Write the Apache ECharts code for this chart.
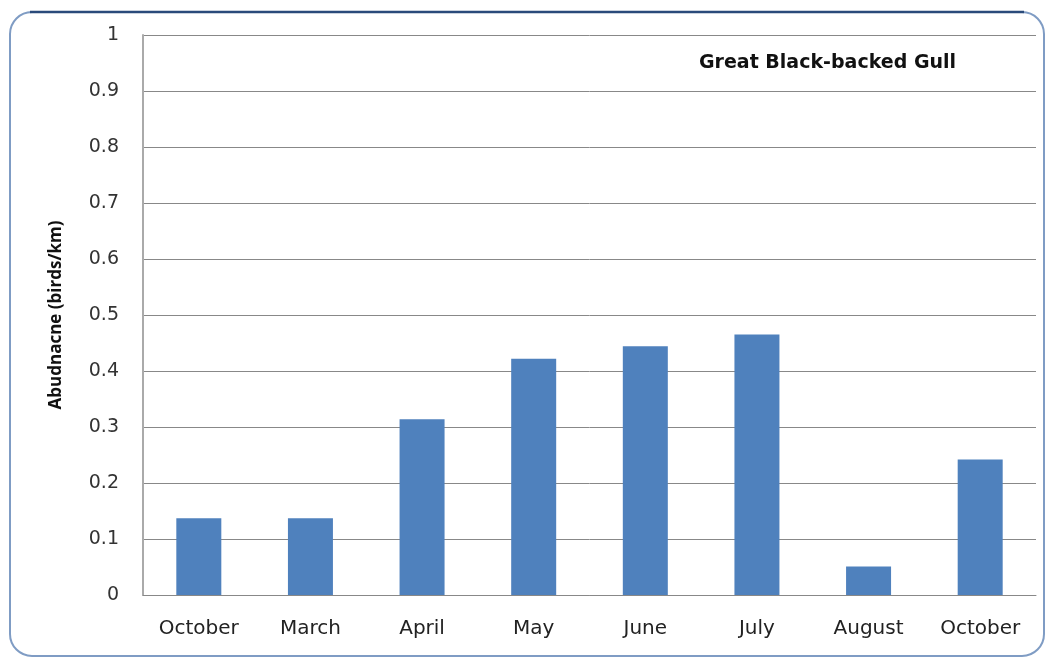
<!DOCTYPE html>
<html>
<head>
<meta charset="utf-8">
<script src="https://cdn.jsdelivr.net/npm/echarts@6/dist/echarts.min.js"></script>
<style>html,body{margin:0;padding:0;background:#fff;}#c{width:1051px;height:660px;}</style>
</head>
<body>
<div id="c"></div>
<script>
const categories = ['October', 'March', 'April', 'May', 'June', 'July', 'August', 'October'];
const abundance = [0.137, 0.137, 0.314, 0.422, 0.444, 0.465, 0.051, 0.242];
const yTicks = [0, 0.1, 0.2, 0.3, 0.4, 0.5, 0.6, 0.7, 0.8, 0.9, 1];

const chart = echarts.init(document.getElementById('c'), null, {renderer: 'canvas'});
chart.setOption({
  animation: false,
  backgroundColor: '#fff',
  title: {
    text: 'Great Black-backed Gull',
    left: 694, top: 49,
    textStyle: {fontFamily: 'DejaVu Sans', fontWeight: 'bold', fontSize: 19, color: '#111'}
  },
  graphic: [{
    type: 'rect', silent: true, z: -1,
    shape: {x: 10, y: 12, width: 1034, height: 644, r: 22},
    style: {fill: 'none', stroke: '#7f9cc4', lineWidth: 2}
  }, {
    type: 'line', silent: true, z: -1,
    shape: {x1: 30, y1: 12, x2: 1024, y2: 12},
    style: {stroke: '#2a4a7a', lineWidth: 2.5}
  }],
  grid: {left: 143, right: 15, top: 35, bottom: 65, containLabel: false},
  xAxis: {
    type: 'category', data: categories,
    axisLine: {lineStyle: {color: '#888', width: 1}},
    axisTick: {show: false},
    axisLabel: {fontFamily: 'DejaVu Sans', fontSize: 20, color: '#222', margin: 24}
  },
  yAxis: {
    type: 'value', min: 0, max: 1, interval: 0.1,
    name: 'Abudnacne (birds/km)', nameLocation: 'middle', nameGap: 78, nameRotate: 90,
    nameTextStyle: {fontFamily: 'Open Sans', fontWeight: 'bold', fontSize: 17, color: '#111'},
    axisLine: {show: true, lineStyle: {color: '#aaa', width: 2}},
    axisTick: {show: false},
    axisLabel: {fontFamily: 'DejaVu Sans', fontSize: 19, color: '#333', margin: 24,
      formatter: v => { const t = yTicks.find(x => Math.abs(x - v) < 1e-9); return String(t !== undefined ? +t.toFixed(1) : v); }},
    splitLine: {lineStyle: {color: '#888', width: 1}}
  },
  series: [{
    type: 'bar', data: abundance, barWidth: 45,
    itemStyle: {color: '#4f81bd'}
  }]
});
</script>
</body>
</html>
